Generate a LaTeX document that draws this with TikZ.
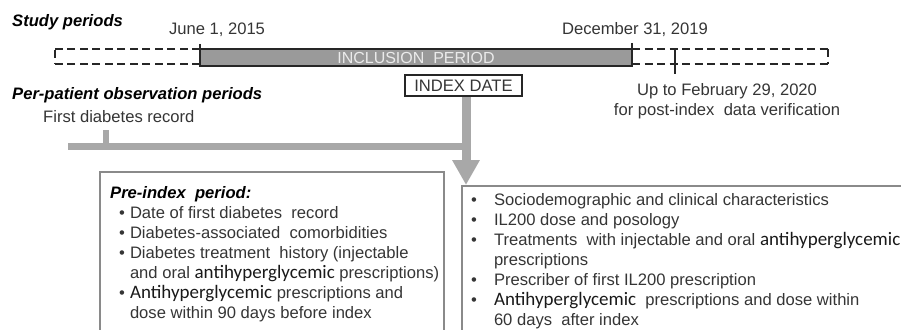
\documentclass[tikz,border=0pt]{standalone}
\usepackage{fontspec}
\setmainfont{Liberation Sans}
\newfontfamily\calib{Carlito}
\usetikzlibrary{arrows.meta}
\definecolor{bargray}{HTML}{9A9A9A}
\definecolor{linegray}{HTML}{A8A8A8}
\definecolor{boxgray}{HTML}{8A8A8A}
\definecolor{txtgray}{HTML}{353535}
\newcommand{\ahg}[1]{{\calib\fontsize{19}{20}\selectfont\color{black!90}#1}}
\tikzset{
 title/.style={anchor=west,inner sep=0,font=\bfseries\itshape\fontsize{16.6}{20}\selectfont},
 txt/.style={inner sep=0,text=txtgray,font=\fontsize{16.6}{20}\selectfont},
 dashbar/.style={dash pattern=on 8pt off 4.5pt,line width=1.6pt,black!85},
 tick/.style={line width=2.2pt,black!85},
 listbox/.style={draw=boxgray,line width=1.3pt},
 listtxt/.style={anchor=base west,inner sep=0,text=txtgray,font=\fontsize{16.6}{20}\selectfont}
}
\begin{document}
\begin{tikzpicture}[x=1pt,y=-1pt]
 \clip (0,0) rectangle (901,329);
 \useasboundingbox (0,0) rectangle (901,329);
 % titles
 \node[title] (study) at (12,22) {Study periods};
 \node[title] (perpat) at (12,95) {Per-patient observation periods};
 % study bar
 \node[txt] (june) at (217,30) {June 1, 2015};
 \node[txt] (dec) at (635,30) {December 31, 2019};
 \draw[dashbar] (200,49)--(55,49) (200,64)--(55,64);
 \draw[dashbar] (55,50)--(55,64);
 \draw[dashbar] (632,49)--(828,49) (632,64)--(828,64);
 \draw[dashbar] (828,49)--(828,64);
 \node[fill=bargray,draw=black!85,line width=1.6pt,minimum width=432,minimum height=17,
  inner sep=0,text=black!8,font=\fontsize{16}{18}\selectfont] (incl) at (416,57.5)
  {INCLUSION\ \ PERIOD};
 \draw[tick] (200,44)--(200,67);
 \draw[tick] (632,43)--(632,67);
 \draw[tick] (675,50)--(675,74);
 \node[txt,align=center] (upto) at (727,101)
  {Up to February 29, 2020\\for post-index\ \ data verification};
 \node[draw=black!85,line width=1.5pt,minimum width=117,minimum height=21,inner sep=0,
  text=txtgray,font=\fontsize{16.6}{20}\selectfont] (idx) at (463.5,85.5) {INDEX DATE};
 % observation line
 \node[txt,anchor=west] (first) at (43,117) {First diabetes\ record};
 \coordinate (tip) at (466,185);
 \coordinate (hstart) at (68,146);
 \coordinate (fmark) at (106,130);
 \draw[line width=7pt,linegray] (hstart)--(hstart -| tip);
 \draw[line width=6pt,linegray] (fmark)--(fmark |- hstart);
 \draw[line width=9pt,linegray,-{Triangle[width=26pt,length=25pt]}] (idx.south -| tip)--(tip);
 % boxes
 \draw[listbox] (100,172) rectangle (444,340);
 \draw[listbox] (462,186) rectangle (910,340);
 \node[listtxt] (pre) at (110,198.5) {\begin{tabular}[t]{@{\hspace{9pt}}l@{\hspace{5pt}}l@{}}
  \multicolumn{2}{@{}l}{\color{black}\bfseries\itshape Pre-index\ \ period:}\\
  \textbullet & Date of first diabetes\ \ record\\
  \textbullet & Diabetes-associated\ \ comorbidities\\
  \textbullet & Diabetes treatment\ \ history (injectable\\
   & and oral \ahg{antihyperglycemic} prescriptions)\\
  \textbullet & \ahg{Antihyperglycemic} prescriptions and\\
   & dose within 90 days before index
 \end{tabular}};
 \node[listtxt] (post) at (467,205.5) {\begin{tabular}[t]{@{\hspace{4pt}}l@{\hspace{17pt}}l@{}}
  \textbullet & Sociodemographic and clinical characteristics\\
  \textbullet & IL200 dose and posology\\
  \textbullet & Treatments\ \ with injectable and oral \ahg{antihyperglycemic}\\
   & prescriptions\\
  \textbullet & Prescriber of first IL200 prescription\\
  \textbullet & \ahg{Antihyperglycemic}\ \ prescriptions and dose within\\
   & 60 days\ \ after index
 \end{tabular}};
\end{tikzpicture}
\end{document}
